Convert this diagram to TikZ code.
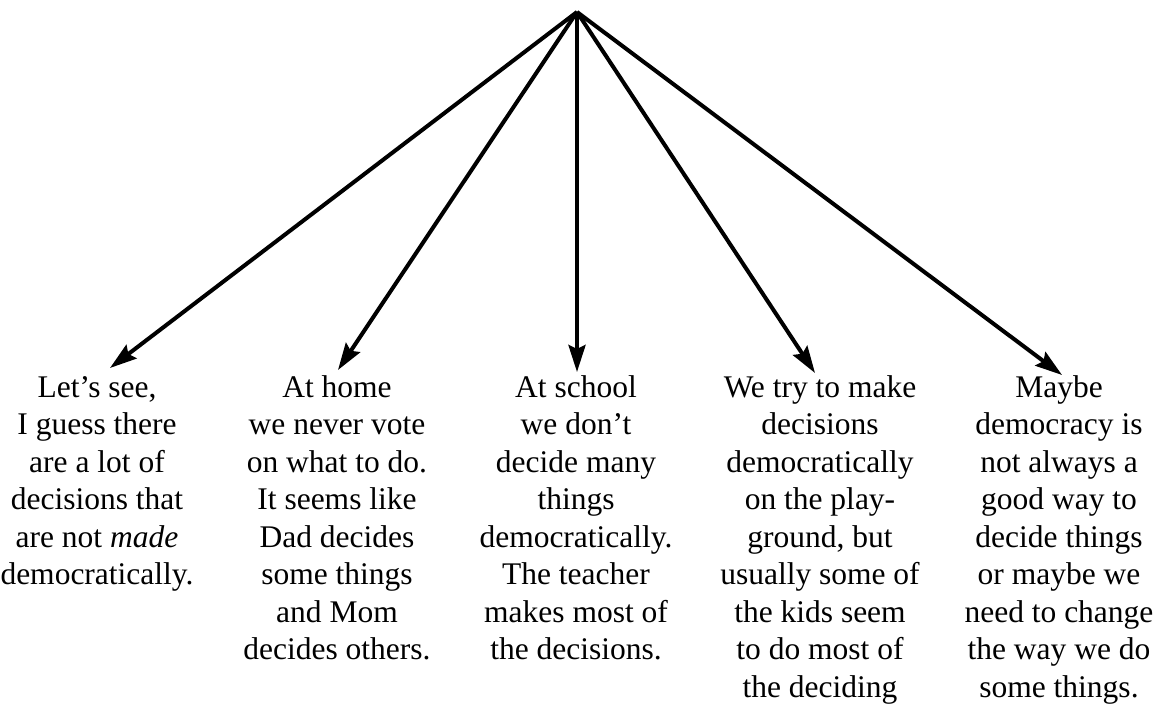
\documentclass[tikz,border=0pt]{standalone}
\usepackage{fontspec}
\setmainfont{Liberation Serif}
\usetikzlibrary{arrows.meta}

% invisible strut fixing the height of each block's first line
\newcommand\firststrut{\rule{0pt}{13pt}}

\tikzset{
  ray/.style={line width=2pt, -{Stealth[length=13.5pt, width=8.5pt, inset=2pt]}},
  saying/.style={anchor=north, align=center, inner sep=0pt,
    font=\fontsize{15.75}{18.75}\selectfont},
}

\begin{document}
\begin{tikzpicture}[x=0.5pt, y=-0.5pt]
  \useasboundingbox (0,0) rectangle (1160,704);

  % common origin of the rays
  \coordinate (apex) at (577,12);

  % arrow tips above each statement
  \coordinate (t1) at (110,368);
  \coordinate (t2) at (338,370);
  \coordinate (t3) at (577,372);
  \coordinate (t4) at (815,373);
  \coordinate (t5) at (1062,375);

  % statements
  \node[saying] (s1) at (97,371) {\firststrut Let’s see,\\ I guess there\\ are a lot of\\ decisions that\\ are not \textit{made}\\ democratically.};
  \node[saying] (s2) at (337,371) {\firststrut At home\\ we never vote\\ on what to do.\\ It seems like\\ Dad decides\\ some things\\ and Mom\\ decides others.};
  \node[saying] (s3) at (576,371) {\firststrut At school\\ we don’t\\ decide many\\ things\\ democratically.\\ The teacher\\ makes most of\\ the decisions.};
  \node[saying] (s4) at (820,371) {\firststrut We try to make\\ decisions\\ democratically\\ on the play-\\ ground, but\\ usually some of\\ the kids seem\\ to do most of\\ the deciding};
  \node[saying] (s5) at (1059,371) {\firststrut Maybe\\ democracy is\\ not always a\\ good way to\\ decide things\\ or maybe we\\ need to change\\ the way we do\\ some things.};

  % rays
  \foreach \t in {t1,t2,t3,t4,t5}
    \draw[ray] (apex) -- (\t);
\end{tikzpicture}
\end{document}
